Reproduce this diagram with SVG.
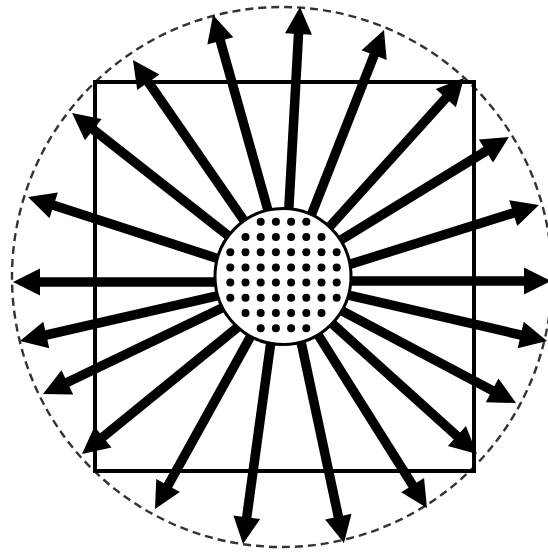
<svg xmlns="http://www.w3.org/2000/svg" width="548" height="552" viewBox="0 0 548 552">
<style>
.arrow{stroke:#000;stroke-width:9.5;fill:none;marker-end:url(#head)}
.dot{fill:#000}
</style>
<defs>
<marker id="head" markerUnits="userSpaceOnUse" markerWidth="27" markerHeight="27" refX="9" refY="13.5" orient="auto" overflow="visible">
<path d="M0,0 L27,13.5 L0,27 Z" fill="#000"/>
</marker>
</defs>
<rect width="548" height="552" fill="#fff"/>
<g id="boundary">
<circle cx="282" cy="277" r="270" fill="none" stroke="#333" stroke-width="2.4" stroke-dasharray="8 5"/>
</g>
<g id="square">
<rect x="95" y="82" width="379" height="389" fill="none" stroke="#000" stroke-width="4"/>
</g>
<g id="connectors">
<line class="arrow" x1="288.6" y1="213" x2="299" y2="25"/>
<line class="arrow" x1="311.1" y1="215.4" x2="377.4" y2="46.7"/>
<line class="arrow" x1="328.6" y1="227.9" x2="451.9" y2="91.4"/>
<line class="arrow" x1="337.2" y1="242.2" x2="493.6" y2="146.4"/>
<line class="arrow" x1="346.4" y1="265.4" x2="521.8" y2="210.4"/>
<line class="arrow" x1="342" y1="281" x2="533" y2="281"/>
<line class="arrow" x1="269.2" y1="214.7" x2="217.9" y2="32.3"/>
<line class="arrow" x1="249.6" y1="228.6" x2="143.2" y2="74.8"/>
<line class="arrow" x1="236.3" y1="241.9" x2="86.2" y2="124.1"/>
<line class="arrow" x1="220.6" y1="259.5" x2="45.1" y2="202.6"/>
<line class="arrow" x1="224" y1="282" x2="31" y2="282"/>
<line class="arrow" x1="224.8" y1="294.2" x2="37.5" y2="337"/>
<line class="arrow" x1="227.2" y1="305.5" x2="59.2" y2="386.2"/>
<line class="arrow" x1="239.2" y1="326" x2="96" y2="442.6"/>
<line class="arrow" x1="251.9" y1="334" x2="163.7" y2="493.3"/>
<line class="arrow" x1="271.1" y1="340.1" x2="245.5" y2="526.2"/>
<line class="arrow" x1="300.3" y1="338.2" x2="340.2" y2="525.4"/>
<line class="arrow" x1="317.7" y1="334.2" x2="417.4" y2="492.8"/>
<line class="arrow" x1="331.1" y1="322.6" x2="463.6" y2="442"/>
<line class="arrow" x1="338.9" y1="309.3" x2="500.1" y2="394.6"/>
<line class="arrow" x1="344.2" y1="294.2" x2="529.5" y2="337"/>
</g>
<g id="source">
<circle cx="283" cy="276.5" r="68" fill="#fff" stroke="#000" stroke-width="3"/>
<g class="dot">
<circle cx="260.7" cy="221.8" r="4"/><circle cx="275.9" cy="221.8" r="4"/><circle cx="291.1" cy="221.8" r="4"/><circle cx="306.3" cy="221.8" r="4"/>
<circle cx="245.5" cy="237" r="4"/><circle cx="260.7" cy="237" r="4"/><circle cx="275.9" cy="237" r="4"/><circle cx="291.1" cy="237" r="4"/><circle cx="306.3" cy="237" r="4"/><circle cx="321.5" cy="237" r="4"/>
<circle cx="230.3" cy="252.2" r="4"/><circle cx="245.5" cy="252.2" r="4"/><circle cx="260.7" cy="252.2" r="4"/><circle cx="275.9" cy="252.2" r="4"/><circle cx="291.1" cy="252.2" r="4"/><circle cx="306.3" cy="252.2" r="4"/><circle cx="321.5" cy="252.2" r="4"/><circle cx="336.7" cy="252.2" r="4"/>
<circle cx="230.3" cy="267.4" r="4"/><circle cx="245.5" cy="267.4" r="4"/><circle cx="260.7" cy="267.4" r="4"/><circle cx="275.9" cy="267.4" r="4"/><circle cx="291.1" cy="267.4" r="4"/><circle cx="306.3" cy="267.4" r="4"/><circle cx="321.5" cy="267.4" r="4"/><circle cx="336.7" cy="267.4" r="4"/>
<circle cx="230.3" cy="282.6" r="4"/><circle cx="245.5" cy="282.6" r="4"/><circle cx="260.7" cy="282.6" r="4"/><circle cx="275.9" cy="282.6" r="4"/><circle cx="291.1" cy="282.6" r="4"/><circle cx="306.3" cy="282.6" r="4"/><circle cx="321.5" cy="282.6" r="4"/><circle cx="336.7" cy="282.6" r="4"/>
<circle cx="230.3" cy="297.8" r="4"/><circle cx="245.5" cy="297.8" r="4"/><circle cx="260.7" cy="297.8" r="4"/><circle cx="275.9" cy="297.8" r="4"/><circle cx="291.1" cy="297.8" r="4"/><circle cx="306.3" cy="297.8" r="4"/><circle cx="321.5" cy="297.8" r="4"/><circle cx="336.7" cy="297.8" r="4"/>
<circle cx="245.5" cy="313" r="4"/><circle cx="260.7" cy="313" r="4"/><circle cx="275.9" cy="313" r="4"/><circle cx="291.1" cy="313" r="4"/><circle cx="306.3" cy="313" r="4"/><circle cx="321.5" cy="313" r="4"/>
<circle cx="260.7" cy="328.2" r="4"/><circle cx="275.9" cy="328.2" r="4"/><circle cx="291.1" cy="328.2" r="4"/><circle cx="306.3" cy="328.2" r="4"/>
</g>
</g>
</svg>
